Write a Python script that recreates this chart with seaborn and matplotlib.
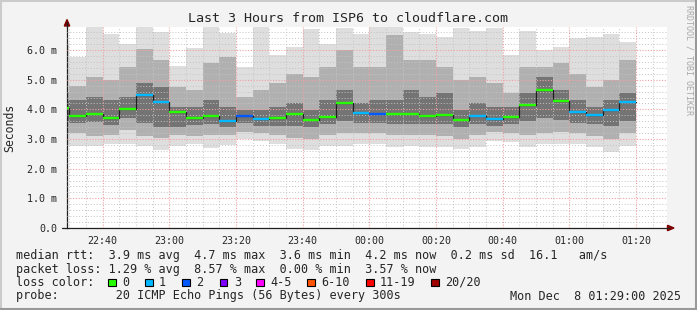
import numpy as np
import pandas as pd
import matplotlib
matplotlib.use("Agg")
import matplotlib.pyplot as plt
from matplotlib.patches import Rectangle, Polygon
from matplotlib.lines import Line2D
from matplotlib.ticker import MultipleLocator, FixedLocator, FixedFormatter
import seaborn as sns

# ---------------- data ----------------
# 5-minute rounds; each value is for the round ending at that time
bar_end = pd.date_range("2025-12-07 22:30", periods=35, freq="5min")
t_ref = pd.Timestamp("2025-12-07 22:40")

median_ms = [4.05, 3.79, 3.83, 3.72, 4.03, 4.48, 4.26, 3.92, 3.72, 3.79,
             3.62, 3.79, 3.66, 3.70, 3.83, 3.65, 3.75, 4.22, 3.89, 3.83,
             3.85, 3.85, 3.79, 3.82, 3.63, 3.79, 3.66, 3.75, 4.16, 4.66,
             4.27, 3.92, 3.82, 3.99, 4.24]
loss_count = [0, 0, 0, 0, 0, 1, 1, 0, 0, 0,
              1, 2, 1, 0, 0, 0, 0, 0, 1, 2,
              0, 0, 0, 0, 0, 1, 1, 0, 0, 0,
              0, 1, 1, 1, 1]
# smoke: slowest / fastest ping and inner spread levels (ms)
smoke_max = [6.20, 5.77, 7.00, 6.56, 6.19, 7.00, 6.60, 5.46, 6.08, 7.00,
             6.57, 5.44, 7.00, 5.83, 6.11, 6.70, 6.19, 6.75, 6.56, 7.00,
             7.00, 6.62, 6.56, 6.45, 6.75, 6.64, 6.75, 5.85, 6.65, 6.00,
             6.11, 6.41, 6.45, 6.56, 6.28]
smoke_hi2 = [4.60, 4.79, 5.10, 4.99, 5.44, 6.05, 5.66, 4.76, 4.65, 5.55,
             5.77, 4.43, 4.65, 4.88, 5.21, 5.10, 5.44, 5.99, 5.44, 5.44,
             6.50, 5.66, 5.66, 5.44, 4.99, 5.10, 4.88, 4.54, 5.44, 5.44,
             5.55, 5.21, 4.76, 4.99, 5.66]
smoke_hi3 = [4.30, 4.31, 4.43, 4.31, 4.43, 4.88, 4.76, 4.09, 4.09, 4.31,
             4.09, 3.98, 3.98, 4.09, 4.20, 3.98, 4.31, 4.65, 4.20, 4.31,
             4.31, 4.65, 4.43, 4.54, 3.98, 4.20, 4.09, 4.09, 4.54, 5.10,
             4.65, 4.31, 4.09, 4.31, 4.54]
smoke_lo3 = [3.60, 3.53, 3.58, 3.47, 3.70, 3.53, 3.42, 3.42, 3.47, 3.50,
             3.42, 3.55, 3.45, 3.45, 3.45, 3.40, 3.50, 3.60, 3.55, 3.55,
             3.50, 3.50, 3.50, 3.50, 3.40, 3.50, 3.45, 3.50, 3.60, 3.70,
             3.65, 3.55, 3.50, 3.45, 3.60]
smoke_lo2 = [3.20, 3.22, 3.10, 3.14, 3.30, 3.10, 3.02, 3.15, 3.10, 3.15,
             3.15, 3.25, 3.20, 3.15, 3.05, 3.00, 3.15, 3.20, 3.20, 3.20,
             3.15, 3.15, 3.15, 3.10, 3.00, 3.15, 3.25, 3.20, 3.15, 3.20,
             3.25, 3.20, 3.10, 3.00, 3.20]
smoke_min = [2.80, 2.76, 2.76, 2.82, 2.85, 2.76, 2.63, 2.76, 2.85, 2.71,
             2.80, 2.99, 2.93, 2.82, 2.65, 2.63, 2.76, 2.76, 2.85, 2.85,
             2.74, 2.76, 2.74, 2.74, 2.65, 2.74, 2.94, 2.91, 2.72, 2.83,
             2.85, 2.83, 2.72, 2.57, 2.76]

loss_legend = ["0", "1", "2", "3", "4-5", "6-10", "11-19", "20/20"]
loss_colors = ["#26ff00", "#00b8ff", "#0059ff", "#7e00ff", "#ff00ff",
               "#ff5500", "#ff0000", "#a00000"]

x_tick_labels = ["22:40", "23:00", "23:20", "23:40", "00:00",
                 "00:20", "00:40", "01:00", "01:20"]
y_tick_labels = ["0.0", "1.0 m", "2.0 m", "3.0 m", "4.0 m", "5.0 m", "6.0 m"]

title = "Last 3 Hours from ISP6 to cloudflare.com"
stat_line1 = "median rtt:  3.9 ms avg  4.7 ms max  3.6 ms min  4.2 ms now  0.2 ms sd  16.1   am/s"
stat_line2 = "packet loss: 1.29 % avg  8.57 % max  0.00 % min  3.57 % now"
stat_line3 = "loss color:"
stat_line4 = "probe:        20 ICMP Echo Pings (56 Bytes) every 300s"
date_text = "Mon Dec  8 01:29:00 2025"

# ---------------- figure ----------------
sns.set_theme(style="white")
plt.rcParams["font.family"] = ["DejaVu Sans Mono", "DejaVu Sans"]

W, H = 697, 310
fig = plt.figure(figsize=(W / 100, H / 100), dpi=100, facecolor="#f3f3f3")


def fx(x):
    return x / W


def fy(y):
    return 1 - y / H


ax_l, ax_r, ax_t, ax_b = 67, 667, 27.3, 228
ax = fig.add_axes([fx(ax_l), fy(ax_b), (ax_r - ax_l) / W, (ax_b - ax_t) / H])
ax.set_facecolor("white")

end_min = np.array([(t - t_ref).total_seconds() / 60 for t in bar_end])
step = 5.0
left_min = end_min - step

med = np.array(median_ms)
bands = [
    (np.array(smoke_min), np.array(smoke_max), "#dedede"),
    (np.array(smoke_lo2), np.array(smoke_hi2), "#b0b0b0"),
    (np.array(smoke_lo3), np.array(smoke_hi3), "#747474"),
]
for lo, hi, col in bands:
    ax.bar(left_min, hi - lo, bottom=lo, width=step, align="edge",
           color=col, linewidth=0, zorder=1)

# median black step line
sns.lineplot(x=end_min, y=med, drawstyle="steps-pre", color="#202020",
             lw=0.9, estimator=None, sort=False, ax=ax, zorder=3)


def loss_idx(n):
    if n <= 3:
        return n
    if n <= 5:
        return 4
    if n <= 10:
        return 5
    if n <= 19:
        return 6
    return 7


cols = [loss_colors[loss_idx(n)] for n in loss_count]
ax.hlines(med, left_min, end_min, colors=cols, lw=1.7, zorder=4)

ax.set_xlim(-10.65, 169.3)
ax.set_ylim(0, 6.77)

ax.xaxis.set_major_locator(FixedLocator(list(range(0, 20 * len(x_tick_labels), 20))))
ax.xaxis.set_major_formatter(FixedFormatter(x_tick_labels))
ax.xaxis.set_minor_locator(MultipleLocator(5))
ax.yaxis.set_major_locator(FixedLocator(list(range(len(y_tick_labels)))))
ax.yaxis.set_major_formatter(FixedFormatter(y_tick_labels))
ax.yaxis.set_minor_locator(MultipleLocator(0.2))

ax.set_axisbelow(False)
ax.grid(which="minor", color="#c4c4c4", linestyle=(0, (1, 2)), lw=0.7)
ax.grid(which="major", color="#f2a0a0", linestyle=(0, (1, 1.5)), lw=0.8)

ax.tick_params(axis="both", which="major", direction="out", length=3,
               width=0.8, color="#404040", labelsize=7.2, pad=4)
ax.tick_params(axis="both", which="minor", direction="out", length=2,
               width=0.6, color="#404040")
ax.tick_params(axis="x", pad=3)

for s in ["top", "right"]:
    ax.spines[s].set_visible(False)
for s in ["left", "bottom"]:
    ax.spines[s].set_color("#202020")
    ax.spines[s].set_linewidth(0.9)

# axis extensions and arrows
fig.add_artist(Line2D([fx(67), fx(67)], [fy(ax_t), fy(22)], color="#202020",
                      lw=0.9, transform=fig.transFigure))
fig.add_artist(Line2D([fx(62), fx(67)], [fy(228), fy(228)], color="#202020",
                      lw=0.9, transform=fig.transFigure))
fig.add_artist(Line2D([fx(667), fx(669)], [fy(228), fy(228)], color="#202020",
                      lw=0.9, transform=fig.transFigure))
fig.add_artist(Polygon([[fx(64.3), fy(26)], [fx(69.7), fy(26)], [fx(67), fy(19.5)]],
                       closed=True, color="#7f0000", transform=fig.transFigure))
fig.add_artist(Polygon([[fx(667.5), fy(225.3)], [fx(667.5), fy(230.7)], [fx(674), fy(228)]],
                       closed=True, color="#7f0000", transform=fig.transFigure))

# texts
fig.text(fx(348), fy(19), title, ha="center", va="center", fontsize=9.6)
fig.text(fx(10), fy(128), "Seconds", rotation=90, ha="center", va="center",
         fontsize=8.3)
fig.text(fx(688.5), fy(60), "RRDTOOL / TOBI OETIKER", rotation=270,
         ha="center", va="center", fontsize=6.0, color="#a8a8a8")

fs = 8.5
fig.text(fx(16), fy(255), stat_line1, ha="left", va="center", fontsize=fs)
fig.text(fx(16), fy(269), stat_line2, ha="left", va="center", fontsize=fs)
fig.text(fx(16), fy(282), stat_line3, ha="left", va="center", fontsize=fs)
fig.text(fx(16), fy(296), stat_line4, ha="left", va="center", fontsize=fs)
fig.text(fx(681), fy(296), date_text, ha="right", va="center", fontsize=fs)

box_x = [108, 145, 182, 220, 256, 307, 366, 431]
for bx, lab, col in zip(box_x, loss_legend, loss_colors):
    fig.add_artist(Rectangle((fx(bx), fy(286)), 7.5 / W, 7.5 / H,
                             facecolor=col, edgecolor="black", lw=0.8,
                             transform=fig.transFigure))
    fig.text(fx(bx + 14), fy(282), lab, ha="left", va="center", fontsize=fs)

# picture frame (rrdtool shade)
fig.add_artist(Line2D([0, 1], [fy(0.5), fy(0.5)], color="#cbcbcb", lw=1.5,
                      transform=fig.transFigure))
fig.add_artist(Line2D([fx(0.5), fx(0.5)], [0, 1], color="#cbcbcb", lw=1.5,
                      transform=fig.transFigure))
fig.add_artist(Line2D([0, 1], [fy(H - 1), fy(H - 1)], color="#999999", lw=1.5,
                      transform=fig.transFigure))
fig.add_artist(Line2D([fx(W - 1), fx(W - 1)], [0, 1], color="#999999", lw=1.5,
                      transform=fig.transFigure))

fig.savefig("out.png", dpi=100, facecolor=fig.get_facecolor())
